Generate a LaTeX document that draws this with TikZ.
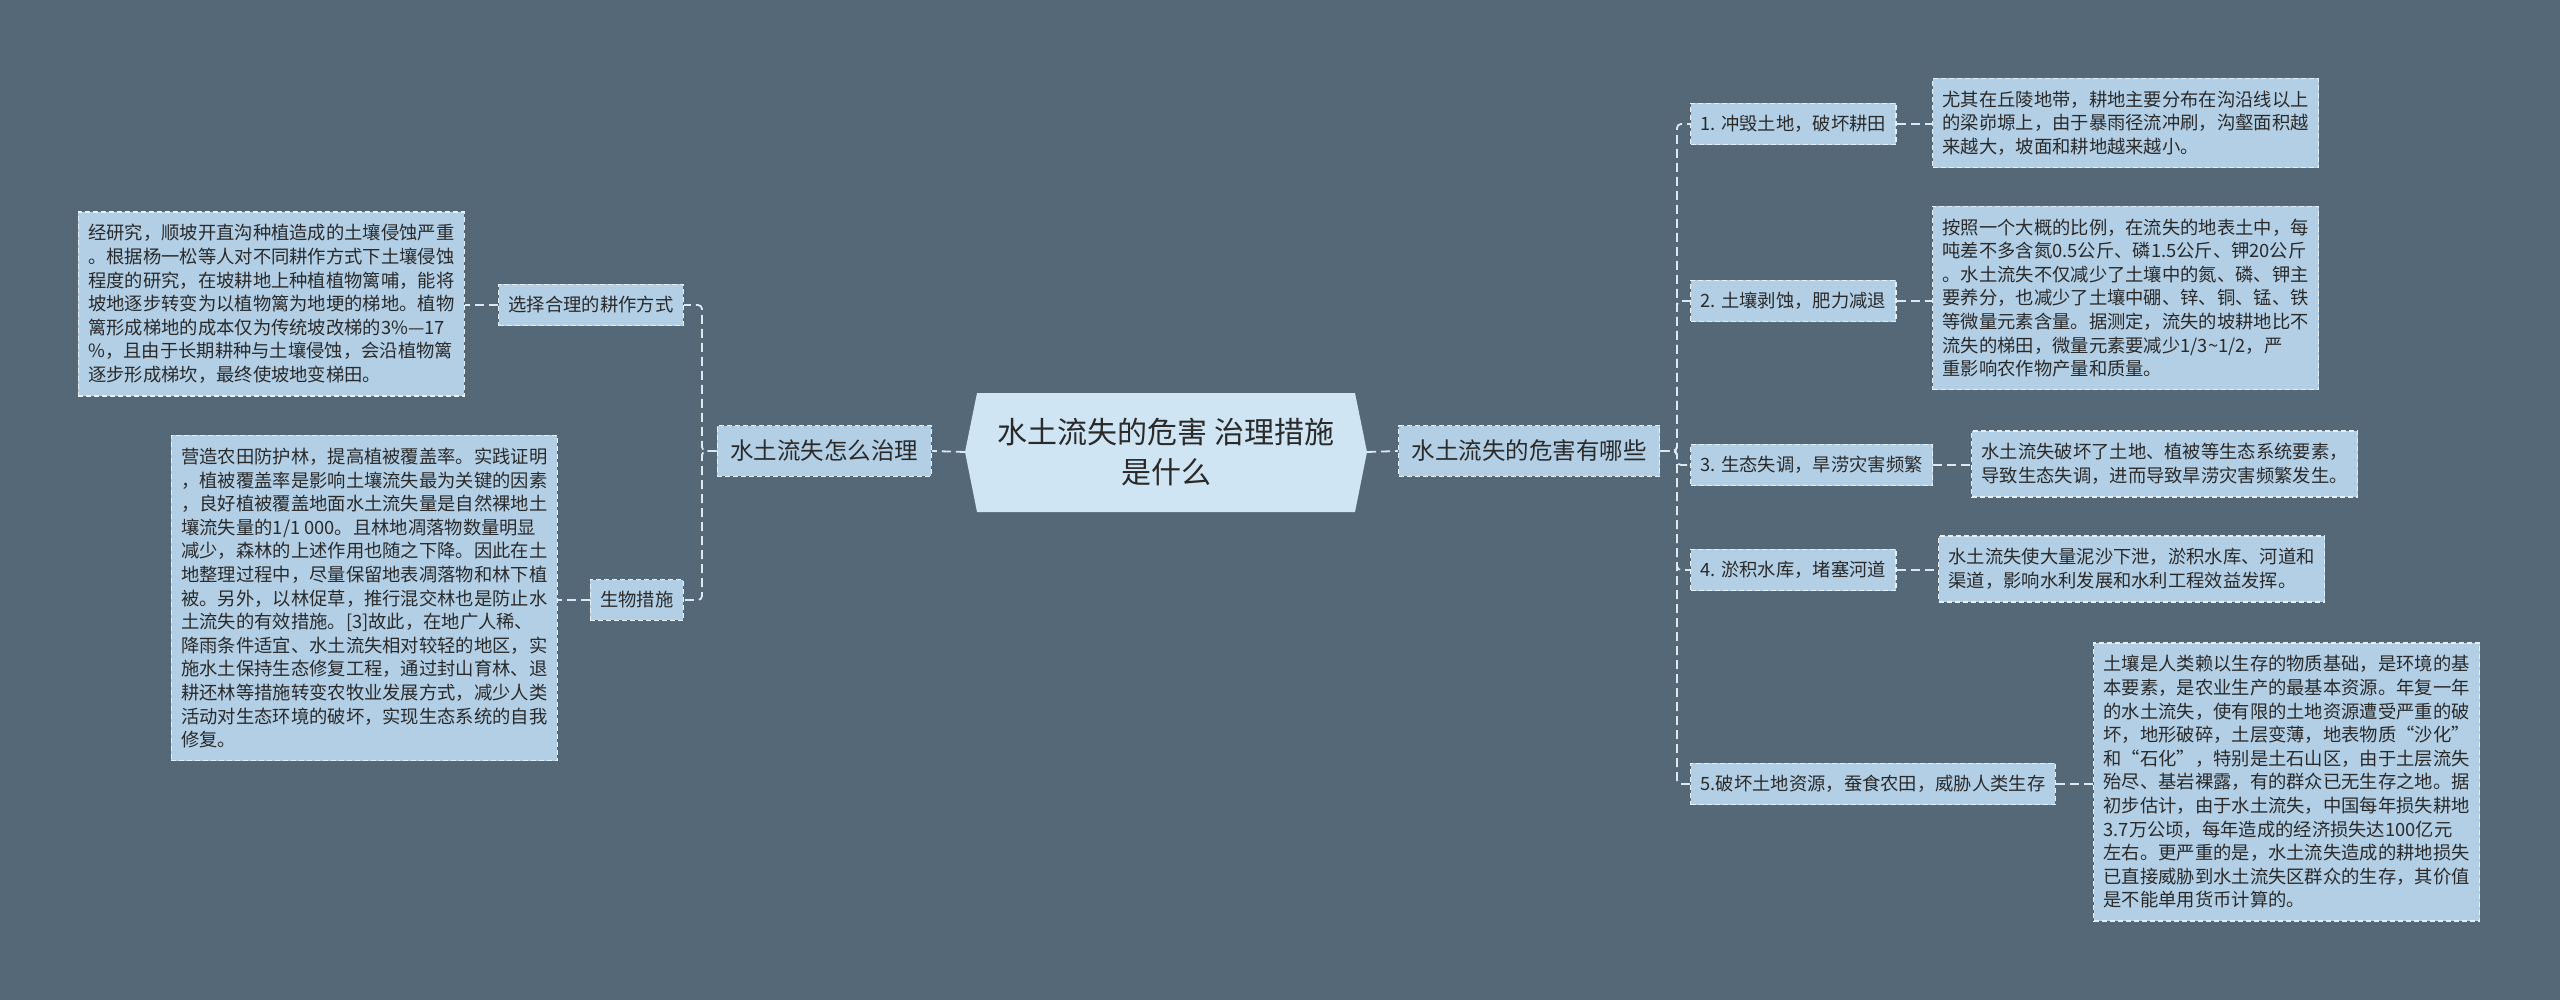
\documentclass[tikz,border=0pt]{standalone}
\usepackage{fontspec}
\setmainfont{Noto Sans CJK SC}
\definecolor{bgc}{HTML}{546878}
\definecolor{boxc}{HTML}{B3CFE5}
\definecolor{rootc}{HTML}{CFE5F3}
\definecolor{txtc}{HTML}{2A2A2A}
\definecolor{bordc}{HTML}{E8F1F8}
\definecolor{linec}{HTML}{DDE9F2}
\begin{document}
\begin{tikzpicture}[x=1pt,y=-1pt,
  bx/.style={draw=bordc, dash pattern=on 5pt off 3pt, line width=1.3pt, fill=boxc, text=txtc,
    inner xsep=10pt, inner ysep=12pt, font=\fontsize{18.3}{23.6}\selectfont, align=left},
  det/.style={bx, inner ysep=12.5pt},
  mainbx/.style={bx, inner xsep=13pt, inner ysep=14.5pt, font=\fontsize{23.5}{28}\selectfont},
  lnk/.style={draw=linec, line width=1.8pt, dash pattern=on 9pt off 5pt, rounded corners=4pt}
]
\useasboundingbox (0,0) rectangle (2560,1000);
\fill[bgc] (0,0) rectangle (2560,1000);

% root
\fill[rootc] (965,452) -- (977,393) -- (1355,393) -- (1367,452) -- (1355,512) -- (977,512) -- cycle;
\node[minimum width=402pt, minimum height=119pt, inner sep=0pt, text=txtc, align=center,
  font=\fontsize{30}{40}\selectfont] (root) at (1166,452) {水土流失的危害 治理措施\\是什么};

% left side
\node[mainbx, anchor=east] (how) at (932,451) {水土流失怎么治理};
\node[bx, anchor=east] (sel) at (684,305) {选择合理的耕作方式};
\node[bx, anchor=east] (bio) at (684,600) {生物措施};
\node[det, anchor=east] (A) at (465,304) {经研究，顺坡开直沟种植造成的土壤侵蚀严重\\。根据杨一松等人对不同耕作方式下土壤侵蚀\\程度的研究，在坡耕地上种植植物篱哺，能将\\坡地逐步转变为以植物篱为地埂的梯地。植物\\篱形成梯地的成本仅为传统坡改梯的3\%—17\\\%，且由于长期耕种与土壤侵蚀，会沿植物篱\\逐步形成梯坎，最终使坡地变梯田。};
\node[det, anchor=east] (B) at (558,598) {营造农田防护林，提高植被覆盖率。实践证明\\，植被覆盖率是影响土壤流失最为关键的因素\\，良好植被覆盖地面水土流失量是自然裸地土\\壤流失量的1/1 000。且林地凋落物数量明显\\减少，森林的上述作用也随之下降。因此在土\\地整理过程中，尽量保留地表凋落物和林下植\\被。另外，以林促草，推行混交林也是防止水\\土流失的有效措施。[3]故此，在地广人稀、\\降雨条件适宜、水土流失相对较轻的地区，实\\施水土保持生态修复工程，通过封山育林、退\\耕还林等措施转变农牧业发展方式，减少人类\\活动对生态环境的破坏，实现生态系统的自我\\修复。};

% right side
\node[mainbx, anchor=west] (harm) at (1398,451) {水土流失的危害有哪些};
\node[bx, anchor=west] (i1) at (1690,124) {1. 冲毁土地，破坏耕田};
\node[bx, anchor=west] (i2) at (1690,301) {2. 土壤剥蚀，肥力减退};
\node[bx, anchor=west] (i3) at (1690,465) {3. 生态失调，旱涝灾害频繁};
\node[bx, anchor=west] (i4) at (1690,570) {4. 淤积水库，堵塞河道};
\node[bx, anchor=west] (i5) at (1690,784) {5.破坏土地资源，蚕食农田，威胁人类生存};

\node[det, anchor=west] (d1) at (1932,123) {尤其在丘陵地带，耕地主要分布在沟沿线以上\\的梁峁塬上，由于暴雨径流冲刷，沟壑面积越\\来越大，坡面和耕地越来越小。};
\node[det, anchor=west] (d2) at (1932,298) {按照一个大概的比例，在流失的地表土中，每\\吨差不多含氮0.5公斤、磷1.5公斤、钾20公斤\\。水土流失不仅减少了土壤中的氮、磷、钾主\\要养分，也减少了土壤中硼、锌、铜、锰、铁\\等微量元素含量。据测定，流失的坡耕地比不\\流失的梯田，微量元素要减少1/3\textasciitilde 1/2，严\\重影响农作物产量和质量。};
\node[det, anchor=west] (d3) at (1971,464) {水土流失破坏了土地、植被等生态系统要素，\\导致生态失调，进而导致旱涝灾害频繁发生。};
\node[det, anchor=west] (d4) at (1938,569) {水土流失使大量泥沙下泄，淤积水库、河道和\\渠道，影响水利发展和水利工程效益发挥。};
\node[det, anchor=west] (d5) at (2093,782) {土壤是人类赖以生存的物质基础，是环境的基\\本要素，是农业生产的最基本资源。年复一年\\的水土流失，使有限的土地资源遭受严重的破\\坏，地形破碎，土层变薄，地表物质“沙化”\\和“石化”，特别是土石山区，由于土层流失\\殆尽、基岩裸露，有的群众已无生存之地。据\\初步估计，由于水土流失，中国每年损失耕地\\3.7万公顷，每年造成的经济损失达100亿元\\左右。更严重的是，水土流失造成的耕地损失\\已直接威胁到水土流失区群众的生存，其价值\\是不能单用货币计算的。};

% connectors
\draw[lnk] (root.west) -- (how.east);
\draw[lnk] (root.east) -- (harm.west);
\draw[lnk] (how.west) -- (702,451) |- (sel.east);
\draw[lnk] (how.west) -- (702,451) |- (bio.east);
\draw[lnk] (sel.west) -- (A.east |- sel.west);
\draw[lnk] (bio.west) -- (B.east |- bio.west);
\foreach \i in {i1,i2,i3,i4,i5} {
  \draw[lnk] (harm.east) -- (1677,451) |- (\i.west);
}
\draw[lnk] (i1.east) -- (d1.west |- i1.east);
\draw[lnk] (i2.east) -- (d2.west |- i2.east);
\draw[lnk] (i3.east) -- (d3.west |- i3.east);
\draw[lnk] (i4.east) -- (d4.west |- i4.east);
\draw[lnk] (i5.east) -- (d5.west |- i5.east);
\end{tikzpicture}
\end{document}
